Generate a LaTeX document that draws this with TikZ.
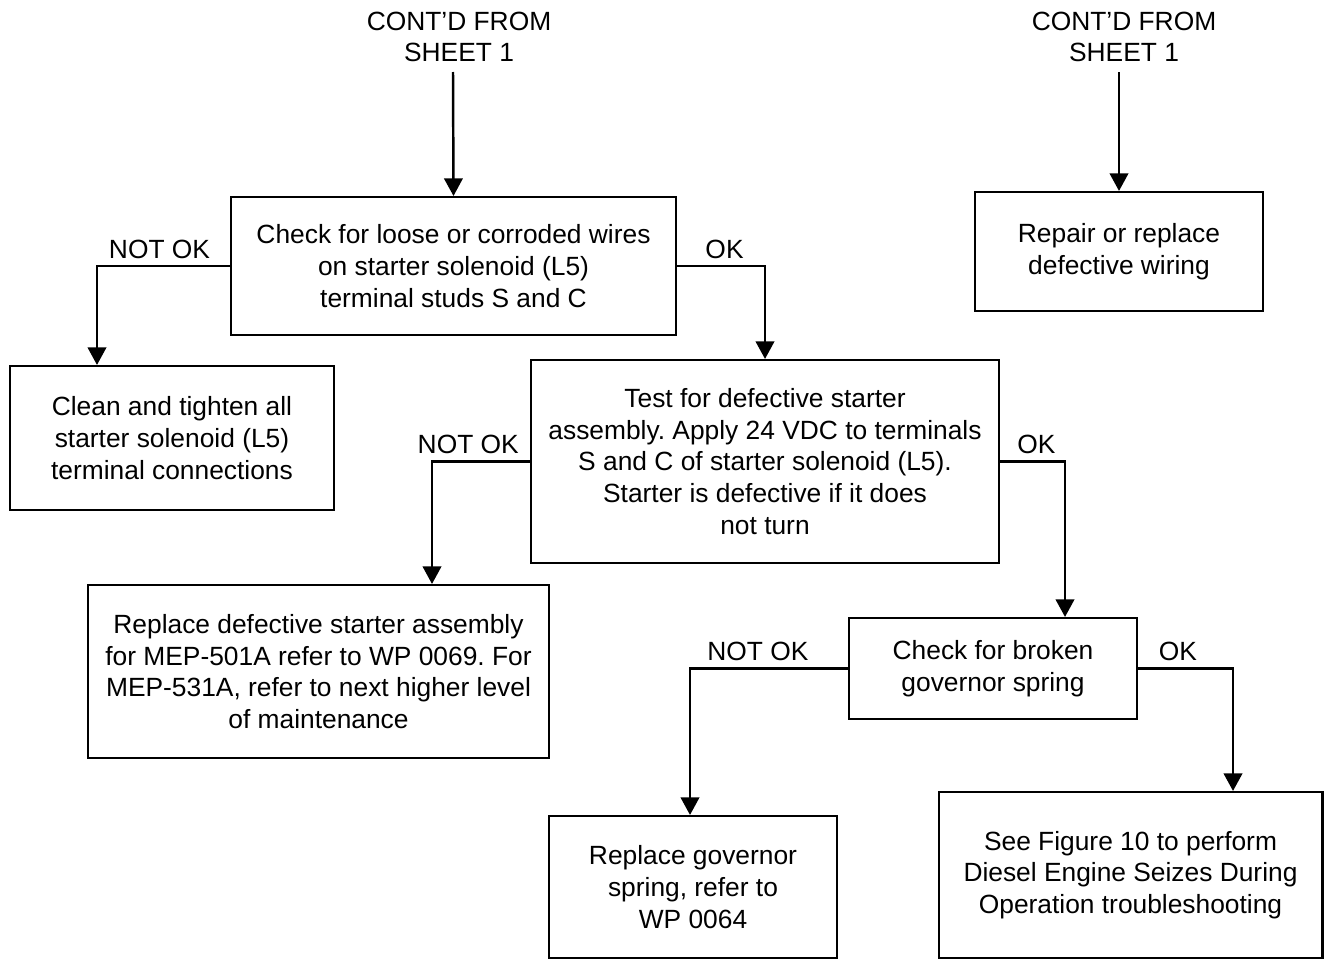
\documentclass[tikz,border=0pt]{standalone}
\usepackage{fontspec}
\setmainfont{Liberation Sans}
\usetikzlibrary{positioning,arrows.meta}
\frenchspacing

\begin{document}
\begin{tikzpicture}[
  x=0.02cm, y=-0.02cm,
  >={Triangle[length=10pt,width=10.5pt]},
  every node/.style={font=\fontsize{15}{18}\selectfont},
  step box/.style={draw,line width=1.2pt,align=center,inner sep=0pt},
  flow/.style={->,line width=1.4pt},
  tag/.style={above=1.5pt,inner sep=2pt}
]
  \useasboundingbox (0,0) rectangle (1324,960);

  \node[align=center] (cont1) at (459,37) {CONT'D FROM\\SHEET 1};
  \node[align=center] (cont2) at (1124,37) {CONT'D FROM\\SHEET 1};

  \node[step box,minimum width=8.9cm,minimum height=2.76cm] (wires) at (453.5,266)
    {Check for loose or corroded wires\\on starter solenoid (L5)\\terminal studs S and C};
  \node[step box,minimum width=5.76cm,minimum height=2.38cm] (repair) at (1119,251.5)
    {Repair or replace\\defective wiring};
  \node[step box,minimum width=6.48cm,minimum height=2.88cm] (clean) at (172,438)
    {Clean and tighten all\\starter solenoid (L5)\\terminal connections};
  \node[step box,minimum width=9.36cm,minimum height=4.06cm] (test) at (765,461.5)
    {Test for defective starter\\assembly.  Apply 24 VDC to terminals\\S and C of starter solenoid (L5).\\Starter is defective if it does\\not turn};
  \node[step box,minimum width=9.22cm,minimum height=3.46cm] (starter) at (318.5,671.5)
    {Replace defective starter assembly\\for MEP-501A refer to WP 0069.  For\\MEP-531A, refer to next higher level\\of maintenance};
  \node[step box,minimum width=5.76cm,minimum height=2.02cm] (spring) at (993,668.5)
    {Check for broken\\governor spring};
  \node[step box,minimum width=5.76cm,minimum height=2.84cm] (govern) at (693,887)
    {Replace governor\\spring, refer to\\WP 0064};
  \node[step box,minimum width=7.68cm,minimum height=3.32cm] (seize) at (1130.5,875)
    {See Figure 10 to perform\\Diesel Engine Seizes During\\Operation troubleshooting};

  \coordinate (c1) at (453,72);
  \coordinate (c2) at (1119,72);

  \draw[flow] (c1) -- (wires.north);
  \draw[flow] (c2) -- (repair.north);

  \draw[flow] (wires.west) -- node[tag,pos=.53]{NOT OK} (97,266) -- (clean.north -| 97,0);
  \draw[flow] (wires.east) -- node[tag,pos=.54]{OK} (765,266) -- (test.north);

  \draw[flow] (test.west) -- node[tag,pos=.63]{NOT OK} (432,461.5) -- (starter.north -| 432,0);
  \draw[flow] (test.east) -- node[tag,pos=.56]{OK} (1065,461.5) -- (spring.north -| 1065,0);

  \draw[flow] (spring.west) -- node[tag,pos=.57]{NOT OK} (690,668.5) -- (govern.north -| 690,0);
  \draw[flow] (spring.east) -- node[tag,pos=.42]{OK} (1233,668.5) -- (seize.north -| 1233,0);
\end{tikzpicture}
\end{document}
